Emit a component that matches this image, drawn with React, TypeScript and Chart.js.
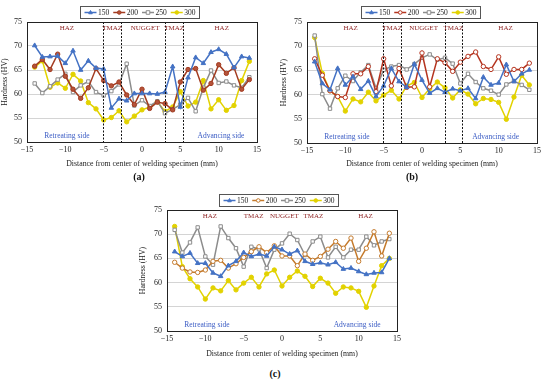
import React, { useEffect, useRef } from 'react';
import { Chart, registerables } from 'chart.js';
Chart.register(...registerables);

const FONT = "'Liberation Serif', 'DejaVu Serif', serif";

const positions = [-14, -13, -12, -11, -10, -9, -8, -7, -6, -5, -4, -3, -2, -1, 0, 1, 2, 3, 4, 5, 6, 7, 8, 9, 10, 11, 12, 13, 14];
const seriesLabels = ['150', '200', '250', '300'];

const a150 = [70.1, 67.7, 67.8, 67.9, 66.4, 69.0, 65.0, 66.9, 65.4, 65.2, 57.1, 59.0, 58.6, 60.1, 60.1, 60.1, 60.0, 60.4, 65.7, 57.3, 63.4, 67.6, 66.4, 68.7, 69.3, 68.3, 65.5, 67.8, 67.5];
const a200 = [65.8, 67.2, 65.1, 68.3, 63.7, 61.0, 59.1, 61.3, 65.3, 62.8, 61.7, 62.5, 59.8, 57.8, 61.0, 57.0, 58.3, 58.0, 56.7, 62.5, 65.1, 65.3, 60.8, 62.2, 66.1, 64.3, 65.5, 61.0, 63.0];
const a250 = [62.2, 60.2, 61.6, 63.0, 64.2, 60.4, 61.8, 62.6, 60.4, 59.7, 60.6, 62.0, 66.3, 57.6, 58.7, 57.5, 58.5, 56.0, 56.8, 57.8, 59.2, 56.4, 61.3, 64.9, 62.3, 62.6, 61.8, 61.3, 63.5];
const a300 = [65.6, 66.9, 61.4, 62.3, 61.2, 64.1, 62.7, 58.2, 56.9, 54.6, 55.1, 56.5, 54.2, 55.4, 56.7, 57.3, 58.4, 56.4, 57.3, 60.5, 57.5, 58.3, 62.8, 56.9, 58.8, 56.6, 57.6, 62.8, 66.8];

const b150 = [66.8, 62.3, 61.0, 65.4, 62.0, 63.7, 61.1, 62.8, 59.6, 61.8, 65.4, 62.7, 61.5, 66.3, 63.0, 60.3, 61.3, 60.5, 61.2, 60.8, 61.3, 59.2, 63.6, 62.0, 62.4, 66.2, 62.7, 64.3, 65.1];
const b200 = [67.4, 64.0, 60.8, 59.6, 59.4, 64.3, 64.3, 65.8, 60.6, 67.4, 61.8, 65.4, 61.5, 61.6, 68.6, 61.6, 67.4, 66.6, 64.8, 66.7, 67.9, 68.8, 65.8, 65.2, 67.8, 64.2, 65.2, 65.2, 66.5];
const b250 = [72.2, 60.1, 57.1, 61.3, 63.9, 62.8, 64.6, 66.1, 61.3, 65.1, 65.8, 66.1, 65.2, 66.3, 67.6, 68.3, 67.2, 67.6, 66.4, 62.3, 64.3, 62.6, 61.3, 60.8, 60.0, 62.1, 62.8, 62.0, 61.0];
const b300 = [71.8, 64.4, 60.8, 59.6, 56.6, 59.1, 58.5, 60.5, 58.7, 59.9, 60.9, 59.1, 61.8, 62.5, 59.4, 61.2, 62.6, 61.4, 59.3, 61.0, 60.1, 58.1, 59.2, 59.0, 58.4, 54.9, 59.5, 64.0, 62.0];

const c150 = [66.4, 65.4, 66.1, 64.0, 64.0, 62.0, 61.3, 63.5, 64.4, 66.2, 65.4, 65.9, 65.5, 67.4, 66.8, 65.9, 66.6, 64.4, 63.8, 64.1, 63.7, 64.2, 62.8, 63.0, 62.3, 61.7, 62.0, 62.1, 65.0];
const c200 = [64.2, 63.0, 62.2, 62.1, 62.6, 64.4, 64.6, 63.0, 63.9, 65.2, 66.4, 67.4, 66.2, 67.6, 65.5, 65.5, 63.5, 65.9, 64.6, 65.4, 66.9, 68.5, 67.1, 69.2, 64.4, 67.1, 70.5, 65.5, 70.2];
const c250 = [70.9, 66.2, 68.3, 71.4, 65.4, 63.7, 71.6, 69.2, 67.1, 63.3, 67.4, 66.9, 63.0, 66.8, 68.1, 70.1, 68.8, 65.7, 68.5, 69.5, 65.2, 67.4, 65.2, 66.8, 66.8, 69.5, 67.7, 68.5, 69.0];
const c300 = [71.6, 63.3, 60.8, 59.1, 56.6, 58.9, 58.3, 60.4, 58.5, 59.9, 61.1, 59.1, 61.8, 62.6, 59.3, 61.1, 62.4, 61.3, 59.2, 60.9, 59.9, 57.8, 59.1, 58.9, 58.2, 54.9, 59.3, 63.5, 65.0];

const zoneNames = ['HAZ', 'TMAZ', 'NUGGET', 'TMAZ', 'HAZ'];
const zoneXA = [-9.8, -3.9, 0.4, 4.2, 10.4];
const zoneXB = [-9.3, -3.9, 0.2, 4.1, 10.9];
const zoneXC = [-9.4, -3.7, 0.3, 4.1, 10.9];
const zoneY = 73.8;
const boundsA = [-5.1, -2.7, 3.0, 5.3];
const boundsB = [-5.1, -2.7, 3.0, 5.2];
const boundsC: number[] = [];
const sideNames = ['Retreating side', 'Advancing side'];
const sideXA = [-9.8, 10.3];
const sideXB = [-9.8, 9.6];
const sideXC = [-9.8, 9.8];
const sideY = 51.2;

const xTitle = 'Distance from center of welding specimen (mm)';
const yTitle = 'Hardness (HV)';

type Spec = {
  series: number[][];
  colors: string[];
  fills: string[];
  styles: string[];
  bounds: number[];
  zoneX: number[];
  sideX: number[];
  width: number;
  height: number;
  padLeft: number;
  padRight: number;
  padTop: number;
  yAxisWidth: number;
  xAxisHeight: number;
  legendCx: number;
  legendTop: number;
};

function drawMarker(ctx: CanvasRenderingContext2D, style: string, x: number, y: number, r: number) {
  ctx.beginPath();
  if (style === 'triangle') {
    ctx.moveTo(x, y - r * 1.1);
    ctx.lineTo(x + r, y + r * 0.7);
    ctx.lineTo(x - r, y + r * 0.7);
    ctx.closePath();
  } else if (style === 'rect') {
    ctx.rect(x - r, y - r, 2 * r, 2 * r);
  } else {
    ctx.arc(x, y, r, 0, Math.PI * 2);
  }
  ctx.fill();
  ctx.stroke();
}

function makePlugin(spec: Spec) {
  return {
    id: 'decor',
    afterDatasetsDraw(chart: any) {
      const { ctx, chartArea } = chart;
      const xs = chart.scales.x;
      const ys = chart.scales.y;
      ctx.save();
      ctx.strokeStyle = '#111';
      ctx.lineWidth = 1;
      ctx.setLineDash([2, 1.5]);
      spec.bounds.forEach((b) => {
        const px = Math.round(xs.getPixelForValue(b)) + 0.5;
        ctx.beginPath();
        ctx.moveTo(px, chartArea.top);
        ctx.lineTo(px, chartArea.bottom);
        ctx.stroke();
      });
      ctx.setLineDash([]);
      ctx.strokeStyle = '#222';
      ctx.lineWidth = 1;
      ctx.strokeRect(Math.round(chartArea.left) + 0.5, Math.round(chartArea.top) + 0.5,
        Math.round(chartArea.right - chartArea.left), Math.round(chartArea.bottom - chartArea.top));
      ctx.font = `7px ${FONT}`;
      ctx.fillStyle = '#8B1E1E';
      ctx.textAlign = 'center';
      ctx.textBaseline = 'middle';
      spec.zoneX.forEach((zx, i) => {
        ctx.fillText(zoneNames[i], xs.getPixelForValue(zx), ys.getPixelForValue(zoneY));
      });
      ctx.font = `7.5px ${FONT}`;
      ctx.fillStyle = '#3B5CC4';
      spec.sideX.forEach((sx, i) => {
        ctx.fillText(sideNames[i], xs.getPixelForValue(sx), ys.getPixelForValue(sideY));
      });
      // legend
      ctx.font = `7.5px ${FONT}`;
      const lineLen = 12;
      const gapAfterLine = 1.5;
      const gapItem = 4;
      const widths = seriesLabels.map((t) => ctx.measureText(t).width);
      const padX = 4;
      let total = padX * 2;
      widths.forEach((w, i) => {
        total += lineLen + gapAfterLine + w + (i < widths.length - 1 ? gapItem : 0);
      });
      const bh = 12;
      const bx = Math.round(spec.legendCx - total / 2) + 0.5;
      const by = spec.legendTop + 0.5;
      ctx.fillStyle = '#fff';
      ctx.fillRect(bx, by, total, bh);
      ctx.strokeStyle = '#555';
      ctx.strokeRect(bx, by, Math.round(total), bh);
      let cx = bx + padX;
      const cy = by + bh / 2;
      seriesLabels.forEach((t, i) => {
        ctx.strokeStyle = spec.colors[i];
        ctx.lineWidth = 1.5;
        ctx.beginPath();
        ctx.moveTo(cx, cy);
        ctx.lineTo(cx + lineLen, cy);
        ctx.stroke();
        ctx.fillStyle = spec.fills[i];
        ctx.lineWidth = 1;
        drawMarker(ctx, spec.styles[i], cx + lineLen / 2, cy, 1.8);
        cx += lineLen + gapAfterLine;
        ctx.fillStyle = '#222';
        ctx.textAlign = 'left';
        ctx.fillText(t, cx, cy + 0.5);
        cx += widths[i] + gapItem;
      });
      ctx.restore();
    },
  };
}

function makeConfig(spec: Spec): any {
  const datasets = spec.series.map((d, i) => ({
    label: seriesLabels[i],
    data: positions.map((x, j) => ({ x, y: d[j] })),
    borderColor: spec.colors[i],
    backgroundColor: spec.fills[i],
    pointBackgroundColor: spec.fills[i],
    pointBorderColor: spec.colors[i],
    pointBorderWidth: 1,
    pointStyle: spec.styles[i],
    pointRadius: spec.styles[i] === 'rect' ? 2.4 : spec.styles[i] === 'triangle' ? 2.6 : 2.2,
    borderWidth: 1.5,
    tension: 0,
    fill: false,
  }));
  const tickFont = { family: FONT, size: 8 };
  return {
    type: 'line',
    data: { datasets },
    plugins: [makePlugin(spec)],
    options: {
      responsive: false,
      animation: false,
      devicePixelRatio: 1,
      layout: { padding: { left: spec.padLeft, right: spec.padRight, top: spec.padTop, bottom: 0 } },
      plugins: { legend: { display: false }, tooltip: { enabled: false }, title: { display: false } },
      scales: {
        x: {
          type: 'linear',
          min: -15,
          max: 15,
          ticks: {
            stepSize: 5,
            font: tickFont,
            color: '#222',
            padding: 3,
            maxRotation: 0,
            callback: (v: number) => String(v).replace('-', '\u2212'),
          },
          grid: { display: false, drawTicks: false },
          border: { display: true, color: '#222' },
          title: { display: true, text: xTitle, font: { family: FONT, size: 7.8 }, color: '#222', padding: { top: 2, bottom: 3 } },
          afterFit: (s: any) => { s.height = spec.xAxisHeight; },
        },
        y: {
          min: 50,
          max: 75,
          ticks: { stepSize: 5, font: tickFont, color: '#222', padding: 5 },
          grid: { color: '#d4d4d4', drawTicks: false, lineWidth: 1 },
          border: { display: true, color: '#222' },
          title: { display: true, text: yTitle, font: { family: FONT, size: 7.8 }, color: '#222', padding: { top: 0, bottom: 2 } },
          afterFit: (s: any) => { s.width = spec.yAxisWidth; },
        },
      },
    },
  };
}

function ChartBox({ spec, left, top }: { spec: Spec; left: number; top: number }) {
  const ref = useRef<HTMLCanvasElement | null>(null);
  useEffect(() => {
    if (!ref.current) return;
    const chart = new Chart(ref.current, makeConfig(spec));
    return () => chart.destroy();
  }, []);
  return (
    <canvas
      ref={ref}
      width={spec.width}
      height={spec.height}
      style={{ position: 'absolute', left, top, width: spec.width, height: spec.height }}
    />
  );
}

const blue = '#4472C4';
const gray = '#8C8C8C';
const yellow = '#E2D200';

const specA: Spec = {
  series: [a150, a200, a250, a300],
  colors: [blue, '#A33B20', gray, yellow],
  fills: [blue, '#B5533A', '#ffffff', yellow],
  styles: ['triangle', 'circle', 'rect', 'circle'],
  bounds: boundsA,
  zoneX: zoneXA,
  sideX: sideXA,
  width: 275,
  height: 172,
  padLeft: 0,
  padRight: 18,
  padTop: 22,
  yAxisWidth: 27,
  xAxisHeight: 30,
  legendCx: 139,
  legendTop: 6,
};

const specB: Spec = {
  series: [b150, b200, b250, b300],
  colors: [blue, '#B5341F', gray, yellow],
  fills: [blue, '#ffffff', '#ffffff', yellow],
  styles: ['triangle', 'circle', 'rect', 'circle'],
  bounds: boundsB,
  zoneX: zoneXB,
  sideX: sideXB,
  width: 275,
  height: 172,
  padLeft: 4,
  padRight: 13,
  padTop: 22,
  yAxisWidth: 28,
  xAxisHeight: 29,
  legendCx: 145,
  legendTop: 6,
};

const specC: Spec = {
  series: [c150, c200, c250, c300],
  colors: [blue, '#C47A2C', gray, yellow],
  fills: [blue, '#ffffff', '#ffffff', yellow],
  styles: ['triangle', 'circle', 'rect', 'circle'],
  bounds: boundsC,
  zoneX: zoneXC,
  sideX: sideXC,
  width: 290,
  height: 182,
  padLeft: 8,
  padRight: 23,
  padTop: 30,
  yAxisWidth: 29,
  xAxisHeight: 31,
  legendCx: 148,
  legendTop: 14,
};

const captionStyle: React.CSSProperties = {
  position: 'absolute',
  font: `bold 10px ${FONT}`,
  color: '#111',
  transform: 'translate(-50%, -50%)',
  whiteSpace: 'nowrap',
};

export default function App() {
  return (
    <div style={{ position: 'fixed', left: 0, top: 0, width: 550, height: 382, background: '#fff', overflow: 'hidden' }}>
      <ChartBox spec={specA} left={0} top={0} />
      <ChartBox spec={specB} left={275} top={0} />
      <ChartBox spec={specC} left={130} top={180} />
      <div style={{ ...captionStyle, left: 139, top: 176 }}>(a)</div>
      <div style={{ ...captionStyle, left: 412, top: 176 }}>(b)</div>
      <div style={{ ...captionStyle, left: 275, top: 373 }}>(c)</div>
    </div>
  );
}
